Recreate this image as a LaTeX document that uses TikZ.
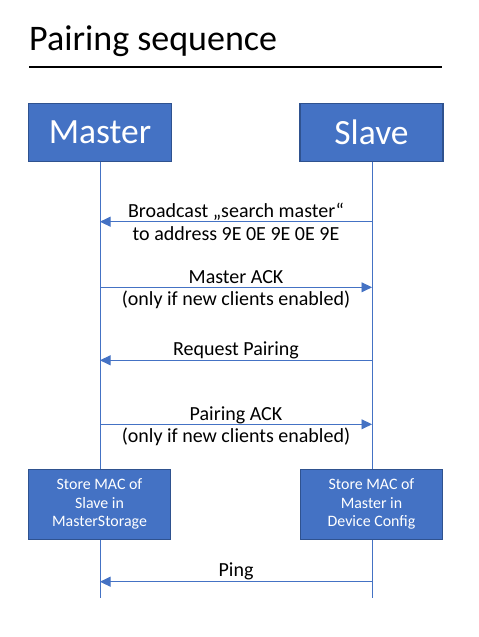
\documentclass[tikz,border=0pt]{standalone}
\usepackage{fontspec}
\setmainfont{Carlito}
\usetikzlibrary{arrows.meta}
\definecolor{boxblue}{HTML}{4472C4}
\definecolor{boxedge}{HTML}{2F528F}
\begin{document}
\begin{tikzpicture}[x=1pt,y=-1pt,
  head/.style={draw=boxedge, line width=1.3pt, fill=boxblue, text=white,
    minimum width=143pt, minimum height=58pt, inner sep=0pt,
    font=\fontsize{35.5}{42}\selectfont},
  store/.style={draw=boxedge, line width=1.3pt, fill=boxblue, text=white,
    minimum width=142pt, minimum height=70pt, inner sep=0pt, align=center,
    font=\fontsize{15.9}{18.7}\selectfont},
  life/.style={draw=boxblue, line width=0.9pt},
  msg/.style={draw=boxblue, line width=0.9pt, -{Triangle[length=10.5pt,width=10pt]}},
  lbl/.style={anchor=base, inner sep=0pt, font=\fontsize{20}{24}\selectfont}]
\useasboundingbox (0,0) rectangle (479,637);
% title
\node[anchor=base west, inner sep=0pt, font=\fontsize{36}{43}\selectfont] (title) at (29,50) {Pairing sequence};
\coordinate (ruleL) at (29,67);
\coordinate (ruleR) at (442,67);
\draw[line width=2pt] (ruleL) -- (ruleR);
% participants
\node[head] (master) at (100,132.5) {Master};
\node[head] (slave) at (371.5,132.5) {Slave};
\coordinate (mEnd) at (100,598);
\coordinate (sEnd) at (372,598);
\coordinate (mTop) at (100,161.5);
\coordinate (sTop) at (372,161.5);
\draw[life] (mTop) -- (mEnd);
\draw[life] (sTop) -- (sEnd);
% messages
\coordinate (m1) at (100,221.7); \coordinate (s1) at (372,221.7);
\draw[msg] (s1) -- (m1);
\node[lbl] (l1a) at (236,217.3) {Broadcast „search master“};
\node[lbl] (l1b) at (236,240) {to address 9E 0E 9E 0E 9E};
\coordinate (m2) at (100,287.3); \coordinate (s2) at (372,287.3);
\draw[msg] (m2) -- (s2);
\node[lbl] (l2a) at (236,283.3) {Master ACK};
\node[lbl] (l2b) at (236,305.5) {(only if new clients enabled)};
\coordinate (m3) at (100,360.3); \coordinate (s3) at (372,360.3);
\draw[msg] (s3) -- (m3);
\node[lbl] (l3) at (236,355.5) {Request Pairing};
\coordinate (m4) at (100,424.3); \coordinate (s4) at (372,424.3);
\draw[msg] (m4) -- (s4);
\node[lbl] (l4a) at (236,420) {Pairing ACK};
\node[lbl] (l4b) at (236,442.5) {(only if new clients enabled)};
% store boxes
\node[store] (mstore) at (99.5,504.2) {Store MAC of\\Slave in\\MasterStorage};
\node[store] (sstore) at (371.5,504.2) {Store MAC of\\Master in\\Device Config};
% ping
\coordinate (m5) at (100,581.7); \coordinate (s5) at (372,581.7);
\draw[msg] (s5) -- (m5);
\node[lbl] (l5) at (236,576.7) {Ping};
\end{tikzpicture}
\end{document}
